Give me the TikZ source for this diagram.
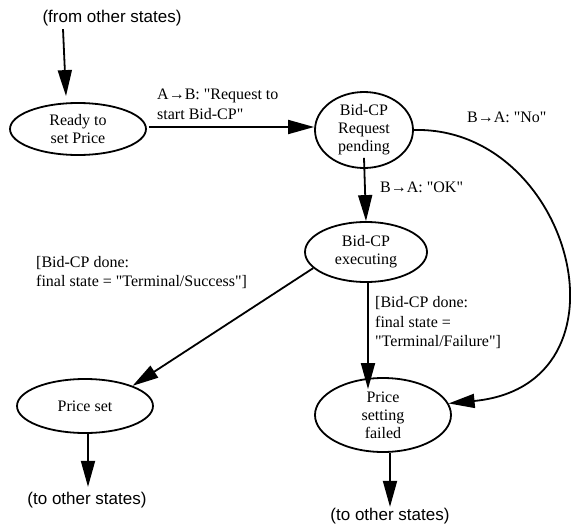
\documentclass[tikz,border=0pt]{standalone}
\usepackage{fontspec}
\setmainfont{Liberation Serif}[Ligatures=TeXOff]
\setsansfont{Liberation Sans}
\usetikzlibrary{arrows.meta,calc,shapes.geometric}

\begin{document}
\begin{tikzpicture}[x=1pt,y=-1pt,
    state/.style={draw, ellipse, line width=1.8pt, inner sep=0pt, align=center, font=\fontsize{16}{18}\selectfont},
    lbl/.style={anchor=west, align=left, inner sep=0pt, font=\fontsize{16}{19.5}\selectfont},
    ext/.style={font=\sffamily\fontsize{17}{20}\selectfont, inner sep=1pt},
    arr/.style={line width=1.8pt, -{Triangle[length=26pt,width=14pt]}}]
        \useasboundingbox (0,0) rectangle (571,525);
        \node[ext] (from) at (112,18) {(from other states)};
        \node[state, minimum width=136pt, minimum height=52pt] (ready) at (78,129) {Ready to\\set Price};
        \node[state, minimum width=98pt, minimum height=76pt] (pend) at (364,130) {Bid-CP\\Request\\pending};
        \node[state, minimum width=122pt, minimum height=60pt] (exec) at (366,252) {Bid-CP\\executing};
        \node[state, minimum width=136pt, minimum height=54pt] (pset) at (85,406) {Price set};
        \node[state, minimum width=136pt, minimum height=74pt] (fail) at (383,415) {Price\\setting\\failed};
        \node[ext] (to1) at (87,500) {(to other states)};
        \node[ext] (to2) at (390,516) {(to other states)};

        \draw[arr] ([xshift=-49pt,yshift=-2pt]from.south) -- ([xshift=-12pt,yshift=6pt]ready.north);
        \draw[arr] ([xshift=2pt,yshift=2pt]ready.east) -- ([yshift=2pt]ready.east -| pend.west);
        \draw[arr] ([yshift=11pt]pend.south) -- (exec.north);
        \draw[arr] (pend.east) .. controls (572,126) and (640,385) .. (fail.10);
        \draw[arr] (exec.197) -- (pset.23);
        \draw[arr] ([xshift=2pt]exec.south) -- ([xshift=2pt,yshift=-12pt]exec.south |- fail.north);
        \draw[arr] ([xshift=3pt]pset.south) -- ([xshift=3pt,yshift=4pt]pset.south |- to1.north);
        \draw[arr] (to2 |- fail.south) -- (to2.north);

        \node[lbl] (reqlbl) at (157,104.5) {A→B: "Request to\\start Bid-CP"};
        \node[lbl] (oklbl) at (380,187) {B→A: "OK"};
        \node[lbl] (nolbl) at (467,117) {B→A: "No"};
        \node[lbl] (succlbl) at (36,272.5) {[Bid-CP done:\\final state = "Terminal/Success"]};
        \node[lbl] (faillbl) at (375,323) {[Bid-CP done:\\final state =\\"Terminal/Failure"]};
\end{tikzpicture}
\end{document}
